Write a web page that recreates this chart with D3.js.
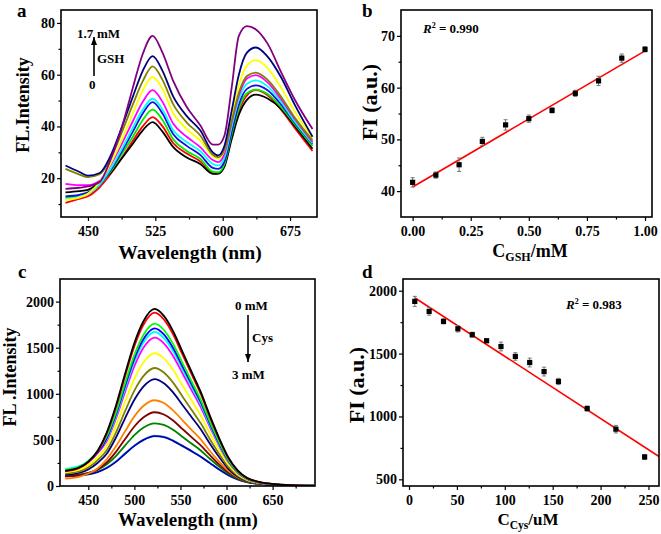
<!DOCTYPE html>
<html><head><meta charset="utf-8">
<script src="https://cdn.jsdelivr.net/npm/d3@7"></script>
<style>
body{margin:0;background:#fff}
svg{display:block}
text{font-family:"Liberation Serif","Times New Roman",serif;font-weight:bold;fill:#000}
</style></head><body>
<svg id="chart" width="661" height="534"></svg>
<script>
// ---------- Panel a: fluorescence spectra with GSH ----------
const aWl = [425,440,450,463,475,488,500,511,522,533,545,560,575,589,595,602,610,618,627,637,650,665,680,700];
const aBlack   = [14.5,15,15.5,18.5,22,27.8,33.3,38.5,41.7,38,32,28,25.5,21.7,21.8,24.5,35,44.5,50.3,52.3,50.8,46.8,40.3,31.4];
const aRed     = [10.5,12,13,16.5,21.5,28,34.5,40,43.6,40,33.5,29.5,26.5,22,21.8,25,36,46,52,54,52,46.5,39.5,30.5];
const aGreen   = [12.5,13.2,14,17.5,22.5,29.5,36,42.5,46.5,42.5,35,30.5,27.5,22.5,22.3,25.5,37,47,52.8,54.2,52.5,47.5,41,32.5];
const aBlue    = [13,13.5,14.5,17.5,23,30.5,38,45,49.4,45,37,32.5,29,24,23.6,26.5,38,48.5,54.5,55.9,54,48.5,41.5,33.2];
const aCyan    = [11.8,12.8,14,17.5,23.5,31.5,39.5,46.5,50.7,46.5,38.5,34,30.5,25.5,24.9,28,40,50.5,56.5,57.8,55.5,49.5,42,33.5];
const aMagenta = [17.8,17.3,17.3,19,25,33.5,42,49.5,54,49.5,41,36,32,27,26.2,29.5,41.5,52,58.5,59.8,57,50.5,43,34];
const aYellow  = [11.6,12.5,14,18.5,25.5,35,45,54,59.1,54.5,45,39,34.5,28.5,27.5,31,44,56,63.5,65.6,62.5,55,46,35.2];
const aOlive   = [23.6,21.5,20.4,21.5,27.5,38,48.5,57.5,63.2,58,48.5,41.5,36.5,29,28.1,31,42,53,59.5,60.8,58,51.5,43.5,34.6];
const aNavy    = [24.9,22.5,21,22,28.5,40,51.5,61.5,67.2,61.5,51.5,44,38.5,30,28.8,32.5,46,60,68.5,70.5,67,59,48.5,36];
const aPurple  = [15.9,16.3,16.8,18.5,27,40,55,68,75,68.5,57.5,47.5,40.5,33,33,36.5,55,75,78.8,77.5,72,61,50.5,39];
const aXTicks = [450,525,600,675];
const aYTicks = [20,40,60,80];

// ---------- Panel b: GSH calibration ----------
const bConc = [0,0.1,0.2,0.3,0.4,0.5,0.6,0.7,0.8,0.9,1.0];
const bFI   = [41.7,43.1,45.1,49.6,52.8,54.0,55.6,58.9,61.3,65.7,67.4];
const bErr  = [0.9,0.6,1.3,0.8,1.0,0.7,0.5,0.6,0.9,0.8,0.5];
const bFitX = [0,1.0];
const bFitY = [40.8,67.1];
const bXTicks = [0,0.25,0.5,0.75,1.0];
const bYTicks = [40,50,60,70];

// ---------- Panel c: fluorescence spectra with Cys ----------
const cWl = [425,440,450,460,470,480,490,500,510,522,532,542,552,562,572,582,592,602,612,622,635,650,670,695];
const cBlack   = [165,200,265,380,580,870,1220,1550,1790,1920,1845,1680,1460,1240,1020,760,520,310,170,90,45,22,8,3];
const cRed     = [160,194,258,370,568,852,1194,1517,1752,1880,1806,1645,1429,1214,999,744,509,303,166,88,44,22,8,3];
const cLime    = [175,207,267,372,540,798,1119,1421,1641,1760,1692,1541,1339,1137,935,697,477,284,156,83,41,20,7,3];
const cBlue    = [170,201,259,362,517,775,1087,1381,1595,1710,1644,1497,1301,1105,909,677,463,276,151,80,40,20,7,3];
const cCyan    = [185,215,272,372,505,757,1061,1349,1557,1670,1605,1462,1270,1079,887,661,452,270,148,78,39,19,7,3];
const cMagenta = [175,204,259,355,487,730,1024,1300,1502,1610,1548,1410,1225,1040,856,638,436,260,143,76,38,18,7,3];
const cYellow  = [150,176,225,311,435,653,915,1163,1343,1440,1384,1260,1095,930,765,570,390,233,128,68,34,17,6,2];
const cOlive   = [135,158,202,278,387,580,814,1034,1194,1280,1231,1121,974,827,680,507,347,207,113,60,30,15,5,2];
const cNavy    = [120,141,180,250,350,525,737,936,1081,1160,1114,1015,882,749,616,459,314,187,103,54,27,13,5,2];
const cOrange  = [80,100,135,190,290,430,595,755,870,930,900,820,715,610,505,380,265,165,95,52,27,13,5,2];
const cMaroon  = [105,118,140,180,255,370,510,645,745,800,775,710,620,530,440,335,235,148,87,48,25,12,5,2];
const cGreen   = [110,122,142,175,235,325,440,552,635,680,662,610,535,460,385,295,210,135,80,45,24,12,5,2];
const cTeal    = [110,118,130,155,200,268,355,440,505,545,535,495,440,380,320,250,180,118,72,42,22,11,4,2];
const cBlue2   = [105,113,125,150,195,262,350,435,500,540,530,490,435,378,318,248,178,117,71,41,22,11,4,2];
const cXTicks = [450,500,550,600,650];
const cYTicks = [0,500,1000,1500,2000];

// ---------- Panel d: Cys calibration ----------
const dConc = [6,21,36,51,66,81,96,111,126,141,156,186,216,246];
const dFI   = [1915,1835,1756,1697,1650,1602,1556,1477,1429,1357,1278,1063,899,678];
const dErr  = [40,30,20,25,20,15,35,30,35,35,25,20,30,20];
const dFitX = [6.3,261];
const dFitY = [1942,681];
const dXTicks = [0,50,100,150,200,250];
const dYTicks = [500,1000,1500,2000];

// ---------- drawing ----------
const svg = d3.select('#chart');
svg.append('rect').attr('width',661).attr('height',534).attr('fill','#fff');

function panel(box, xDom, yDom, xT, yT, xMinor, yMinor, xFmt, yFmt){
  const [L,T,R,B] = box;
  const x = d3.scaleLinear().domain(xDom).range([L,R]);
  const y = d3.scaleLinear().domain(yDom).range([B,T]);
  const g = svg.append('g');
  const style = s => { s.select('.domain').remove(); s.selectAll('line').attr('stroke','#000').attr('stroke-width',1.2); s.selectAll('text').attr('font-size',14).attr('fill','#000'); };
  g.append('g').attr('transform',`translate(0,${B})`)
    .call(d3.axisBottom(x).tickValues(xT).tickSize(4).tickPadding(5).tickSizeOuter(0).tickFormat(xFmt)).call(style);
  g.append('g').attr('transform',`translate(0,${B})`)
    .call(d3.axisBottom(x).tickValues(xMinor).tickSize(2.5).tickSizeOuter(0).tickFormat('')).call(style);
  g.append('g').attr('transform',`translate(${L},0)`)
    .call(d3.axisLeft(y).tickValues(yT).tickSize(4).tickPadding(2).tickSizeOuter(0).tickFormat(yFmt)).call(style);
  g.append('g').attr('transform',`translate(${L},0)`)
    .call(d3.axisLeft(y).tickValues(yMinor).tickSize(2.5).tickSizeOuter(0).tickFormat('')).call(style);
  const clipId = 'clip'+L+'_'+T;
  svg.append('clipPath').attr('id',clipId).append('rect').attr('x',L).attr('y',T).attr('width',R-L).attr('height',B-T);
  const plot = svg.append('g').attr('clip-path',`url(#${clipId})`);
  return {x,y,plot,box};
}
function frame(box){
  const [L,T,R,B]=box;
  svg.append('rect').attr('x',L).attr('y',T).attr('width',R-L).attr('height',B-T)
    .attr('fill','none').attr('stroke','#000').attr('stroke-width',1.6);
}
function spectra(p, wl, series, w){
  const line = d3.line().x((d,i)=>p.x(wl[i])).y(d=>p.y(d)).curve(d3.curveMonotoneX);
  series.forEach(s=>{
    p.plot.append('path').datum(s.v).attr('d',line).attr('fill','none')
      .attr('stroke',s.c).attr('stroke-width',w).attr('stroke-linejoin','round');
  });
}
function scatter(p, xs, ys, es, fx, fy){
  p.plot.append('path').datum(fx.map((v,i)=>[v,fy[i]]))
    .attr('d',d3.line().x(d=>p.x(d[0])).y(d=>p.y(d[1])))
    .attr('stroke','#ff0000').attr('stroke-width',1.6).attr('fill','none');
  const g = p.plot.append('g');
  xs.forEach((xv,i)=>{
    const cx=p.x(xv), y1=p.y(ys[i]-es[i]), y2=p.y(ys[i]+es[i]);
    g.append('line').attr('x1',cx).attr('x2',cx).attr('y1',y1).attr('y2',y2).attr('stroke','#777').attr('stroke-width',1);
    [y1,y2].forEach(yy=>g.append('line').attr('x1',cx-2).attr('x2',cx+2).attr('y1',yy).attr('y2',yy).attr('stroke','#777').attr('stroke-width',1));
    g.append('rect').attr('x',cx-2.6).attr('y',p.y(ys[i])-2.6).attr('width',5.2).attr('height',5.2).attr('fill','#000');
  });
}
function txt(x,y,s,size,anchor,rot){
  const t=svg.append('text').attr('x',x).attr('y',y).attr('font-size',size).attr('text-anchor',anchor||'start').text(s);
  if(rot) t.attr('transform',`rotate(-90,${x},${y})`);
  return t;
}
function arrow(x,y1,y2){
  svg.append('line').attr('x1',x).attr('x2',x).attr('y1',y1).attr('y2',y2).attr('stroke','#000').attr('stroke-width',1.6);
  const d = y2<y1 ? 1 : -1;
  svg.append('path').attr('d',`M${x},${y2} L${x-3},${y2+d*8} L${x+3},${y2+d*8} Z`).attr('fill','#000');
}
const fd = d3.format('d');

// Panel a
const pa = panel([61,10,317,217],[420,705],[5,85],aXTicks,aYTicks,[487.5,562.5,637.5],[10,30,50,70],fd,fd);
spectra(pa, aWl, [
  {c:'#ff0000',v:aRed},{c:'#000000',v:aBlack},{c:'#00ee00',v:aGreen},{c:'#1010e0',v:aBlue},
  {c:'#00ffff',v:aCyan},{c:'#ff00ff',v:aMagenta},{c:'#ffff00',v:aYellow},{c:'#808000',v:aOlive},
  {c:'#000080',v:aNavy},{c:'#800080',v:aPurple}], 1.8);
frame(pa.box);
txt(17,17,'a',19);
txt(29,105,'FL.Intensity',18,'middle',true);
txt(190,259,'Wavelength (nm)',19.5,'middle');
txt(77,38,'1.7',13,'start');
txt(97,38,'mM',13,'start');
arrow(94,76,37);
txt(97,63,'GSH',13,'start');
txt(89,89,'0',13,'start');

// Panel b
const pb = panel([401,10,652,217],[-0.05,1.03],[35,75],bXTicks,bYTicks,[0.125,0.375,0.625,0.875],[45,55,65],d3.format('.2f'),fd);
scatter(pb, bConc, bFI, bErr, bFitX, bFitY);
frame(pb.box);
txt(362,17,'b',19);
txt(377,102,'FI (a.u.)',22,'middle',true);
{
  const t = txt(530,257,'',18,'middle');
  t.append('tspan').text('C');
  t.append('tspan').attr('font-size',12).attr('dy',4).text('GSH');
  t.append('tspan').attr('dy',-4).text('/mM');
}
{
  const t = txt(423,33,'',13,'start');
  t.append('tspan').attr('font-style','italic').text('R');
  t.append('tspan').attr('font-size',8).attr('dy',-5).text('2');
  t.append('tspan').attr('dy',5).text(' = 0.990');
}

// Panel c
const pc = panel([60,279,315,486],[419.3,696],[0,2245],cXTicks,cYTicks,[475,525,575,625,675],[250,750,1250,1750],fd,fd);
spectra(pc, cWl, [
  {c:'#66cccc',v:cTeal},{c:'#0000b0',v:cBlue2},{c:'#008000',v:cGreen},{c:'#800000',v:cMaroon},
  {c:'#ff8000',v:cOrange},{c:'#000080',v:cNavy},{c:'#808000',v:cOlive},{c:'#ffff00',v:cYellow},
  {c:'#ff00ff',v:cMagenta},{c:'#00ffff',v:cCyan},{c:'#0000ff',v:cBlue},{c:'#00ff00',v:cLime},
  {c:'#ff0000',v:cRed},{c:'#000000',v:cBlack}], 1.8);
frame(pc.box);
txt(18,278,'c',19);
txt(16,377,'FL .Intensity',18,'middle',true);
txt(188,526,'Wavelength (nm)',19,'middle');
txt(235,310,'0 mM',13,'start');
arrow(248,315,362);
txt(252,342,'Cys',13,'start');
txt(232,379,'3 mM',13,'start');

// Panel d
const pd = panel([403,279,659,486],[-6.3,261],[447,2093],dXTicks,dYTicks,[25,75,125,175,225],[750,1250,1750],fd,fd);
scatter(pd, dConc, dFI, dErr, dFitX, dFitY);
frame(pd.box);
txt(362,278,'d',19);
txt(364,385,'FI (a.u.)',22,'middle',true);
{
  const t = txt(528,525,'',17,'middle');
  t.append('tspan').text('C');
  t.append('tspan').attr('font-size',11.5).attr('dy',4).text('Cys');
  t.append('tspan').attr('dy',-4).text('/uM');
}
{
  const t = txt(566,309,'',13,'start');
  t.append('tspan').attr('font-style','italic').text('R');
  t.append('tspan').attr('font-size',8).attr('dy',-5).text('2');
  t.append('tspan').attr('dy',5).text(' = 0.983');
}
</script>
</body></html>
